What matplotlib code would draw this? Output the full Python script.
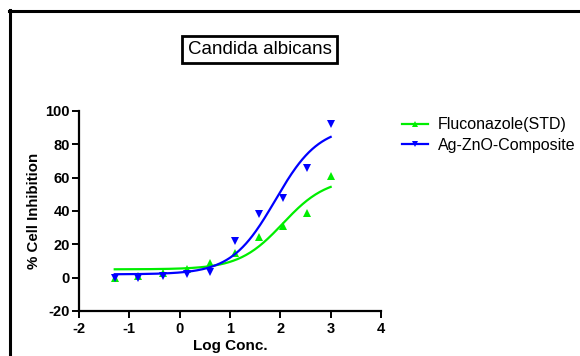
import matplotlib
matplotlib.use("Agg")
import matplotlib.pyplot as plt
import numpy as np
from matplotlib.lines import Line2D

plt.rcParams['font.family'] = ['Liberation Sans', 'DejaVu Sans']
plt.rcParams['axes.unicode_minus'] = False

# log concentrations (same for both series)
log_conc = [-1.29, -0.82, -0.34, 0.14, 0.61, 1.09, 1.57, 2.05, 2.52, 3.0]
fluconazole = [0, 1, 2.5, 5, 9, 14.5, 24.5, 31, 38.6, 61]
ag_zno = [0, 0, 1, 2, 3.6, 21.7, 38, 48, 66, 92]

# fitted sigmoid parameters (bottom, top, logEC50, hill)
fit_fluconazole = (5, 60, 2.05, 1.0)
fit_ag_zno = (2, 91, 1.9, 1.0)

green = '#00ee00'
blue = '#0000ff'


def sigmoid(x, bottom, top, logec50, hill):
    return bottom + (top - bottom) / (1 + 10 ** ((logec50 - x) * hill))


fig = plt.figure(figsize=(5.8, 3.56), dpi=100)
ax = fig.add_axes([79 / 580, 1 - 311 / 356, 302 / 580, 200 / 356])

xs = np.linspace(min(log_conc), max(log_conc), 200)
ax.plot(xs, sigmoid(xs, *fit_fluconazole), color=green, lw=1.6)
ax.plot(log_conc, fluconazole, '^', color=green, ms=6, mew=0)
ax.plot(xs, sigmoid(xs, *fit_ag_zno), color=blue, lw=1.6)
ax.plot(log_conc, ag_zno, 'v', color=blue, ms=6, mew=0)

ax.set_xlim(-2, 4)
ax.set_ylim(-20, 100)
ax.set_xticks(range(-2, 5))
ax.set_yticks(range(-20, 101, 20))
for s in ['top', 'right']:
    ax.spines[s].set_visible(False)
for s in ['left', 'bottom']:
    ax.spines[s].set_linewidth(1.6)
ax.tick_params(width=1.4, length=5, labelsize=10.5)
ax.tick_params(axis='x', pad=3)
ax.tick_params(axis='y', pad=1.5)
for lbl in ax.get_xticklabels() + ax.get_yticklabels():
    lbl.set_fontweight('bold')
ax.set_xlabel('Log Conc.', fontsize=11, fontweight='bold', labelpad=2)
ax.set_ylabel('% Cell Inhibition', fontsize=10.8, fontweight='bold', labelpad=3)

handles = [Line2D([], [], color=green, marker='^', ms=5, lw=1.6, mew=0),
           Line2D([], [], color=blue, marker='v', ms=5, lw=1.6, mew=0)]
fig.legend(handles, ['Fluconazole(STD)', 'Ag-ZnO-Composite'],
           loc='upper left', bbox_to_anchor=(396 / 580, 1 - 111 / 356),
           frameon=False, fontsize=11.5, handlelength=1.6, handletextpad=0.6,
           labelspacing=0.35, borderaxespad=0)

fig.text(259.5 / 580, 1 - 49.5 / 356, 'Candida albicans', fontsize=13.5,
         ha='center', va='center',
         bbox=dict(boxstyle='square,pad=0.28', fc='white', ec='black', lw=2))

# outer frame
fig.add_artist(Line2D([9.5 / 580, 9.5 / 580], [0, 1 - 10 / 356], color='black', lw=2.2))
fig.add_artist(Line2D([8.5 / 580, 1], [1 - 10.5 / 356, 1 - 10.5 / 356], color='black', lw=2.2))

fig.savefig('out.png', dpi=100)
